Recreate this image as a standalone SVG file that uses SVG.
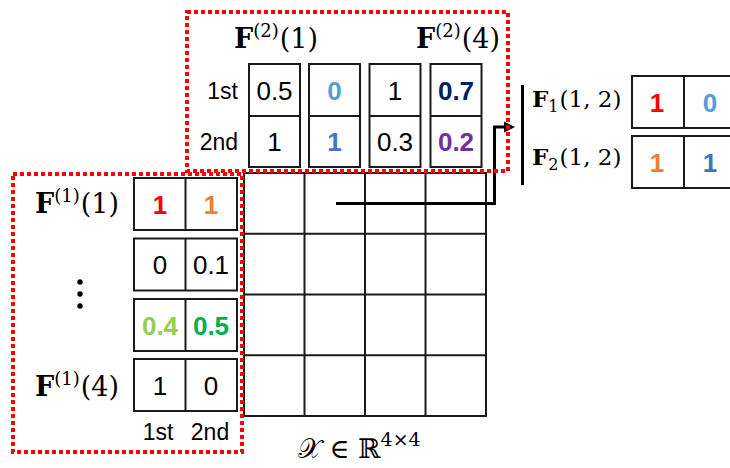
<svg xmlns="http://www.w3.org/2000/svg" width="730" height="468" viewBox="0 0 730 468">
<defs>
<marker id="ah" markerWidth="11" markerHeight="11" refX="4" refY="5.5" orient="auto" markerUnits="userSpaceOnUse">
<path d="M0,0 L11,5.5 L0,11 Z" fill="#000"/>
</marker>
<style>
.box{fill:#fff;stroke:#1a1a1a;stroke-width:2}
.ln{stroke:#1a1a1a;stroke-width:2;fill:none}
.v{font-family:"Liberation Sans",Arial,sans-serif;font-size:26px;text-anchor:middle;fill:#000}
.b{font-weight:bold}
.lab{font-family:"Liberation Sans",Arial,sans-serif;font-size:23px;fill:#000}
.m{font-family:"DejaVu Serif","Liberation Serif",serif;font-size:27px;fill:#000}
.sup{font-size:18px}
.dot{fill:none;stroke:#ff0000;stroke-width:4;stroke-dasharray:4 3}
</style>
</defs>

<g id="grid">
<rect x="244" y="173" width="242" height="243" class="ln"/>
<path class="ln" d="M304.5,173V416M365,173V416M425.5,173V416M244,233.75H486M244,294.5H486M244,355.25H486"/>
</g>

<g id="f2-1">
<rect class="box" x="249" y="64" width="51" height="103"/>
<line class="ln" x1="249" y1="116" x2="300" y2="116"/>
<text class="v" x="274.5" y="99.5">0.5</text>
<text class="v" x="274.5" y="151">1</text>
</g>
<g id="f2-2">
<rect class="box" x="309" y="64" width="51" height="103"/>
<line class="ln" x1="309" y1="116" x2="360" y2="116"/>
<text class="v b" x="334.5" y="99.5" style="fill:#5b9bd5">0</text>
<text class="v b" x="334.5" y="151" style="fill:#4472c4">1</text>
</g>
<g id="f2-3">
<rect class="box" x="369.5" y="64" width="51" height="103"/>
<line class="ln" x1="369.5" y1="116" x2="420.5" y2="116"/>
<text class="v" x="395" y="99.5">1</text>
<text class="v" x="395" y="151">0.3</text>
</g>
<g id="f2-4">
<rect class="box" x="430.5" y="64" width="51" height="103"/>
<line class="ln" x1="430.5" y1="116" x2="481.5" y2="116"/>
<text class="v b" x="456" y="99.5" style="fill:#002060">0.7</text>
<text class="v b" x="456" y="151" style="fill:#7030a0">0.2</text>
</g>
<g id="f2-labels">
<text class="lab" x="238" y="99" text-anchor="end">1st</text>
<text class="lab" x="238" y="150" text-anchor="end">2nd</text>
<text class="m" x="234" y="48"><tspan font-weight="bold">F</tspan><tspan class="sup" dy="-11">(2)</tspan><tspan dy="11" dx="1">(1)</tspan></text>
<text class="m" x="416" y="48"><tspan font-weight="bold">F</tspan><tspan class="sup" dy="-11">(2)</tspan><tspan dy="11" dx="1">(4)</tspan></text>
</g>

<g id="f1-1">
<rect class="box" x="134" y="178" width="103" height="52"/>
<line class="ln" x1="185.5" y1="178" x2="185.5" y2="230"/>
<text class="v b" x="160" y="213.5" style="fill:#ff0000">1</text>
<text class="v b" x="211" y="213.5" style="fill:#ed7d31">1</text>
</g>
<g id="f1-2">
<rect class="box" x="134" y="238.5" width="103" height="52"/>
<line class="ln" x1="185.5" y1="238.5" x2="185.5" y2="290.5"/>
<text class="v" x="160" y="274">0</text>
<text class="v" x="211" y="274">0.1</text>
</g>
<g id="f1-3">
<rect class="box" x="134" y="299" width="103" height="52"/>
<line class="ln" x1="185.5" y1="299" x2="185.5" y2="351"/>
<text class="v b" x="160" y="334.5" style="fill:#92d050">0.4</text>
<text class="v b" x="211" y="334.5" style="fill:#00b050">0.5</text>
</g>
<g id="f1-4">
<rect class="box" x="134" y="359" width="103" height="52"/>
<line class="ln" x1="185.5" y1="359" x2="185.5" y2="411"/>
<text class="v" x="160" y="394.5">1</text>
<text class="v" x="211" y="394.5">0</text>
</g>
<g id="f1-labels">
<text class="m" x="35" y="213"><tspan font-weight="bold">F</tspan><tspan class="sup" dy="-11">(1)</tspan><tspan dy="11" dx="1">(1)</tspan></text>
<text class="m" x="35" y="396"><tspan font-weight="bold">F</tspan><tspan class="sup" dy="-11">(1)</tspan><tspan dy="11" dx="1">(4)</tspan></text>
<circle cx="80" cy="282" r="2.7" fill="#000"/>
<circle cx="80" cy="294" r="2.7" fill="#000"/>
<circle cx="80" cy="306" r="2.7" fill="#000"/>
<text class="lab" x="158" y="440" text-anchor="middle">1st</text>
<text class="lab" x="210" y="440" text-anchor="middle">2nd</text>
</g>

<g id="output">
<line x1="522.5" y1="85" x2="522.5" y2="185" stroke="#000" stroke-width="3"/>
<text class="m" x="532" y="107" style="font-size:23px"><tspan font-weight="bold">F</tspan><tspan style="font-size:16px" dy="5">1</tspan><tspan dy="-5" dx="1">(1, 2)</tspan></text>
<text class="m" x="532" y="165" style="font-size:23px"><tspan font-weight="bold">F</tspan><tspan style="font-size:16px" dy="5">2</tspan><tspan dy="-5" dx="1">(1, 2)</tspan></text>
<rect class="box" x="632" y="76" width="104" height="52"/>
<line class="ln" x1="684" y1="76" x2="684" y2="128"/>
<text class="v b" x="657" y="111.5" style="fill:#ff0000">1</text>
<text class="v b" x="710" y="111.5" style="fill:#5b9bd5">0</text>
<rect class="box" x="632" y="136" width="104" height="52"/>
<line class="ln" x1="684" y1="136" x2="684" y2="188"/>
<text class="v b" x="657" y="171.5" style="fill:#ed7d31">1</text>
<text class="v b" x="710" y="171.5" style="fill:#4472c4">1</text>
</g>

<g id="caption">
<text class="m" x="298" y="458" style="font-size:27px">𝒳 ∈ ℝ<tspan style="font-size:19px" dy="-12">4×4</tspan></text>
</g>

<g id="connectors">
<path d="M336,203.5H494.5V127H508" fill="none" stroke="#000" stroke-width="3" marker-end="url(#ah)"/>
</g>

<g id="regions">
<rect class="dot" x="187" y="12" width="321" height="159"/>
<rect class="dot" x="13" y="174" width="229" height="278"/>
</g>
</svg>
